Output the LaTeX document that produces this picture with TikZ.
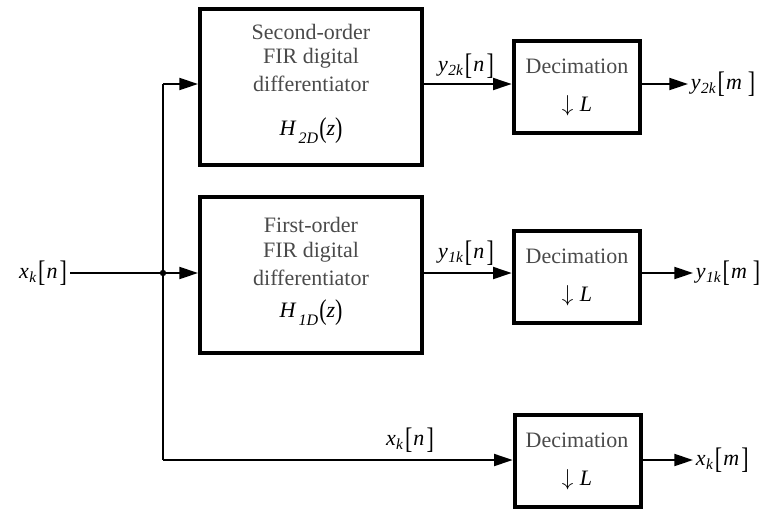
\documentclass[tikz,border=0pt]{standalone}
\usepackage{fontspec}
\setmainfont{Liberation Serif}
\usetikzlibrary{arrows.meta}

% signal names such as x_k[n]
\newcommand{\bkt}[1]{\raisebox{-0.12em}{\scalebox{1}[1.35]{[}}\kern0.05em#1\kern0.1em\raisebox{-0.12em}{\scalebox{1}[1.35]{]}}}
\newcommand{\sigl}[3]{\textit{#1}\kern0.02em\textsubscript{\textit{#2}}\kern0.05em\bkt{\textit{#3}}}
\newcommand{\tfun}[1]{\textit{H}\kern0.1em\raisebox{-0.35em}{\fontsize{12}{12}\selectfont\textit{#1}}\kern0.05em\raisebox{-0.1em}{\scalebox{1}[1.3]{(}}\textit{z}\raisebox{-0.1em}{\scalebox{1}[1.3]{)}}}

\definecolor{txtgrey}{HTML}{4A4A4A}

\begin{document}
\begin{tikzpicture}[x=0.75pt,y=-0.75pt,
  every node/.style={font=\fontsize{16.5}{19.5}\selectfont},
  block/.style={draw,line width=3pt,minimum width=166.5pt,minimum height=117pt,inner sep=0pt},
  decbox/.style={draw,line width=3pt,minimum width=95pt,minimum height=69pt,inner sep=0pt},
  btext/.style={text=txtgrey,inner sep=0pt},
  sig/.style={inner sep=2pt},
  wire/.style={line width=1.5pt},
  arr/.style={wire,-{Triangle[length=14pt,width=9pt]}}]
\useasboundingbox (0,0) rectangle (764,512);

% filter blocks
\node[block] (h2) at (311,87) {};
\node[block] (h1) at (311,275) {};
\node[btext] (h2a) at (311,32) {Second-order};
\node[btext] (h2b) at (311,58) {FIR digital};
\node[btext] (h2c) at (311,84) {differentiator};
\node[inner sep=0pt] (h2d) at (311,131) {\tfun{2D}};
\node[btext] (h1a) at (311,225) {First-order};
\node[btext] (h1b) at (311,252) {FIR digital};
\node[btext] (h1c) at (311,278) {differentiator};
\node[inner sep=0pt] (h1d) at (311,313) {\tfun{1D}};

% decimators
\node[decbox] (d2) at (577,87) {};
\node[decbox] (d1) at (577,277) {};
\node[decbox] (d0) at (578,461) {};
\foreach \d/\y in {d2/87,d1/277,d0/461}{
  \node[btext] (\d t) at (577,\y-21) {Decimation};
  \node[inner sep=0pt] (\d l) at (577,\y+19) {$\downarrow$\hspace{0.3em}\textit{L}};
}

% branch points
\coordinate (j) at (163,273);
\coordinate (t) at (163,84);
\coordinate (b) at (163,460);

% input
\node[sig,anchor=east] (xin) at (70,273) {\sigl{x}{k}{n}};
\draw[wire] (xin.east) -- (j);
\draw[wire] (t) -- (b);
\fill (j) circle (2.4pt);

% branches into the blocks
\draw[arr] (t) -- (h2.west |- t);
\draw[arr] (j) -- (h1.west |- j);
\draw[arr] (b) -- (d0.west |- b);

% filter outputs into decimators
\draw[arr] (h2.east |- t) -- (d2.west |- t);
\draw[arr] (h1.east |- j) -- (d1.west |- j);
\node[sig] (y2n) at (466,66) {\sigl{y}{2k}{n}};
\node[sig] (y1n) at (466,253) {\sigl{y}{1k}{n}};
\node[sig] (x0n) at (410,440) {\sigl{x}{k}{n}};

% outputs
\node[sig,anchor=west] (y2m) at (688,84) {\sigl{y}{2k}{m\,}};
\node[sig,anchor=west] (y1m) at (693,273) {\sigl{y}{1k}{m\,}};
\node[sig,anchor=west] (x0m) at (693,460) {\sigl{x}{k}{m}};
\draw[arr] (d2.east |- t) -- (y2m.west);
\draw[arr] (d1.east |- j) -- (y1m.west);
\draw[arr] (d0.east |- b) -- (x0m.west);
\end{tikzpicture}
\end{document}
